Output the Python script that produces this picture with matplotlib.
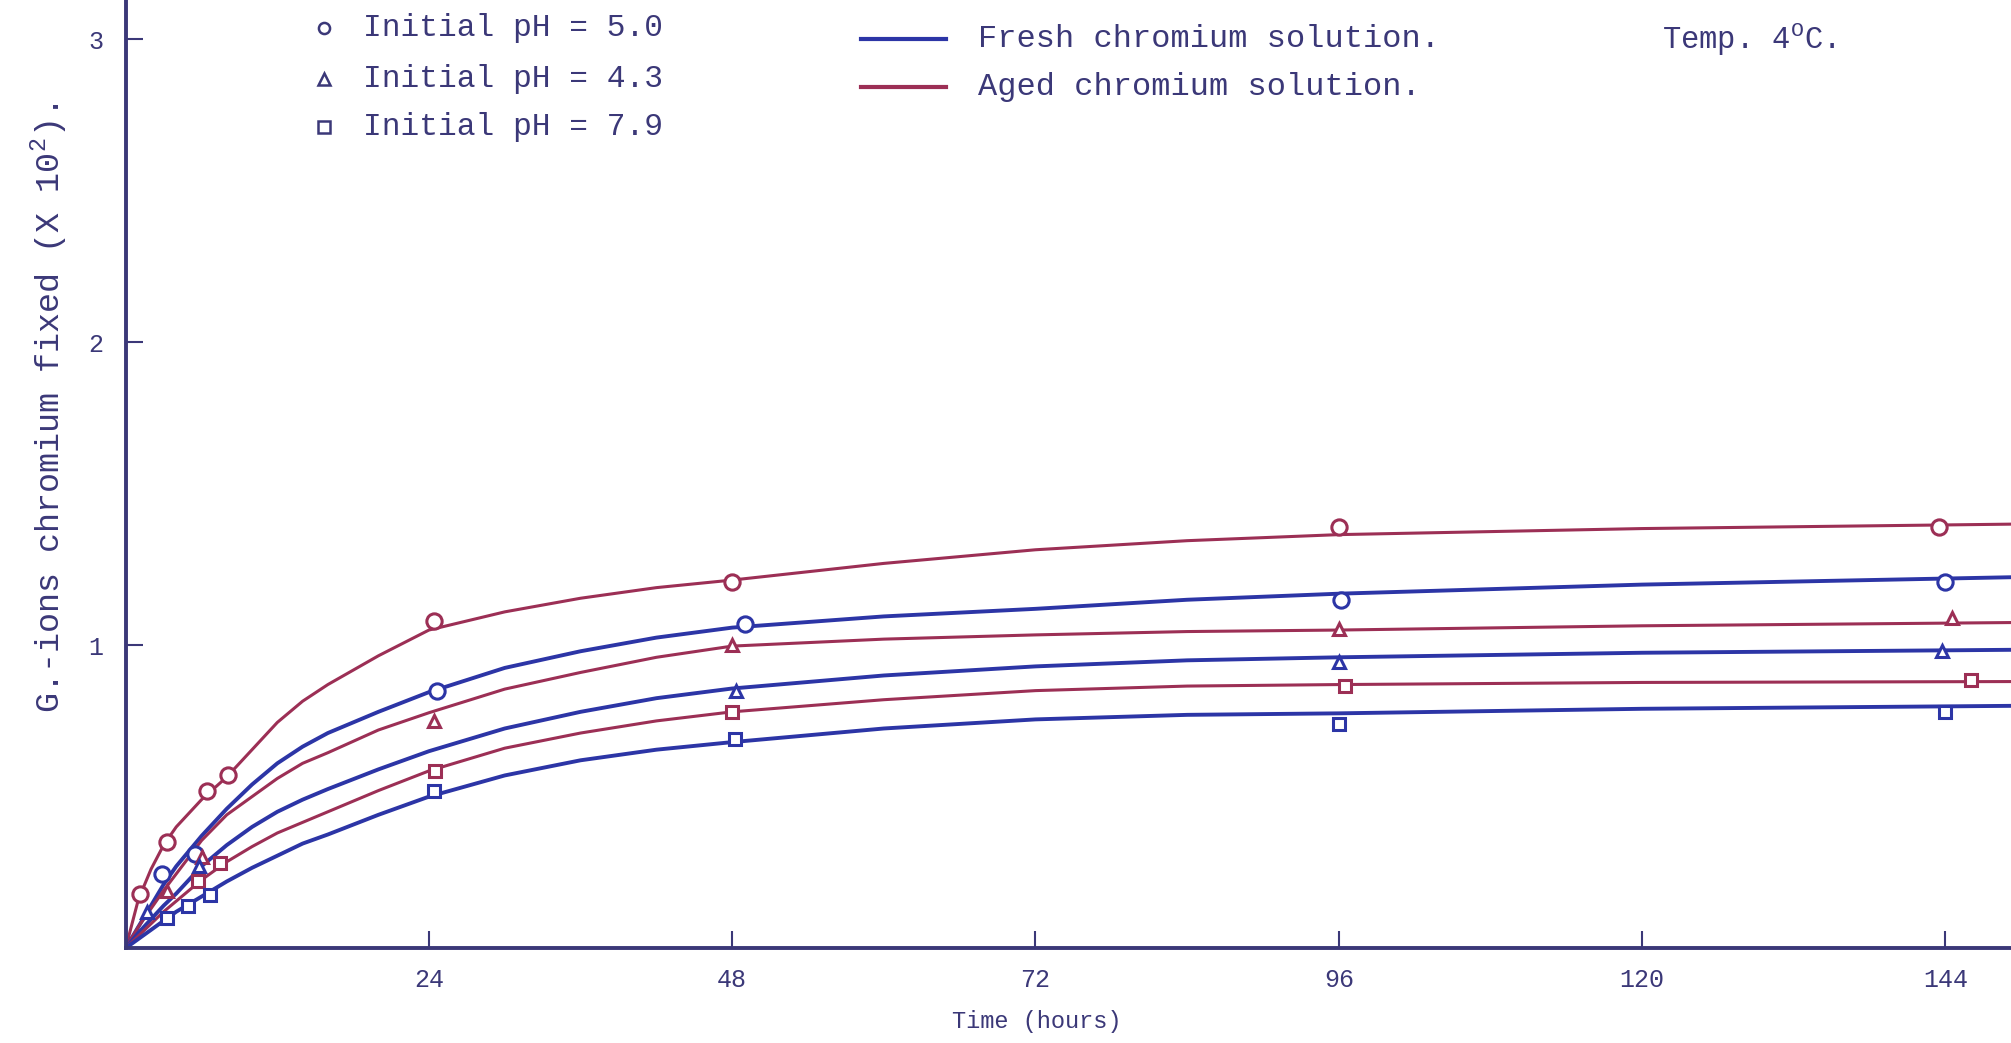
import numpy as np
import matplotlib
matplotlib.use("Agg")
import matplotlib.pyplot as plt

# typewriter-ish look
plt.rcParams['font.family'] = ['Liberation Mono', 'DejaVu Sans Mono']
plt.rcParams['mathtext.fontset'] = 'custom'
plt.rcParams['mathtext.rm'] = 'Liberation Mono'

BLUE = '#2c35a6'     # fresh solution
RED = '#9c2f55'      # aged solution
INK = '#3b3878'      # axes / typed text

# smooth curves (hours -> G.-ions x 10^2)
curve_hours = [0, 1, 2, 3, 4, 6, 8, 10, 12, 14, 16, 20, 24, 30, 36, 42, 48, 60, 72, 84, 96, 120, 150]
aged_50 = [0, 0.16, 0.26, 0.34, 0.40, 0.49, 0.565, 0.655, 0.745, 0.815, 0.87, 0.965, 1.05,
           1.11, 1.155, 1.19, 1.215, 1.27, 1.315, 1.345, 1.365, 1.385, 1.40]
fresh_50 = [0, 0.07, 0.14, 0.21, 0.27, 0.37, 0.46, 0.54, 0.61, 0.665, 0.71, 0.78, 0.845,
            0.925, 0.98, 1.025, 1.058, 1.095, 1.12, 1.15, 1.17, 1.20, 1.225]
aged_43 = [0, 0.07, 0.13, 0.19, 0.245, 0.355, 0.44, 0.50, 0.56, 0.61, 0.645, 0.72, 0.777,
           0.855, 0.91, 0.96, 0.997, 1.02, 1.034, 1.045, 1.05, 1.064, 1.075]
fresh_43 = [0, 0.05, 0.095, 0.14, 0.18, 0.27, 0.34, 0.40, 0.45, 0.49, 0.525, 0.59, 0.65,
            0.725, 0.78, 0.825, 0.857, 0.90, 0.93, 0.95, 0.96, 0.975, 0.985]
aged_79 = [0, 0.04, 0.08, 0.12, 0.155, 0.225, 0.285, 0.335, 0.38, 0.415, 0.45, 0.52, 0.585,
           0.66, 0.71, 0.75, 0.78, 0.82, 0.85, 0.865, 0.87, 0.877, 0.88]
fresh_79 = [0, 0.03, 0.06, 0.09, 0.12, 0.17, 0.22, 0.265, 0.305, 0.345, 0.375, 0.44, 0.50,
            0.57, 0.62, 0.655, 0.68, 0.725, 0.755, 0.77, 0.775, 0.79, 0.80]

# measured points
aged_50_t = [1.1, 3.3, 6.4, 8.1, 24.4, 48.0, 96.0, 143.5]
aged_50_y = [0.18, 0.35, 0.52, 0.57, 1.08, 1.21, 1.39, 1.39]
fresh_50_t = [2.9, 5.5, 24.6, 49.0, 96.2, 144.0]
fresh_50_y = [0.245, 0.31, 0.85, 1.07, 1.15, 1.21]
aged_43_t = [3.3, 6.0, 24.4, 48.0, 96.0, 144.5]
aged_43_y = [0.19, 0.30, 0.75, 1.00, 1.055, 1.09]
fresh_43_t = [1.7, 5.8, 48.3, 96.0, 143.7]
fresh_43_y = [0.12, 0.27, 0.85, 0.945, 0.98]
aged_79_t = [5.7, 7.5, 24.5, 48.0, 96.5, 146.0]
aged_79_y = [0.22, 0.28, 0.585, 0.78, 0.865, 0.885]
fresh_79_t = [3.25, 4.9, 6.7, 24.4, 48.2, 96.0, 144.0]
fresh_79_y = [0.10, 0.14, 0.175, 0.52, 0.69, 0.74, 0.78]

x_ticks = [24, 48, 72, 96, 120, 144]
y_ticks = [1, 2, 3]

fig = plt.figure(figsize=(20.11, 10.43), dpi=100)
ax = fig.add_axes([0.0625, 0.091, 0.9375, 0.909])

curves = [
    (aged_50, RED, 2.2), (fresh_50, BLUE, 2.8),
    (aged_43, RED, 2.2), (fresh_43, BLUE, 2.8),
    (aged_79, RED, 2.2), (fresh_79, BLUE, 2.8),
]
for vals, col, lw in curves:
    ax.plot(curve_hours, vals, color=col, lw=lw, solid_capstyle='round', solid_joinstyle='round')

points = [
    (aged_50_t, aged_50_y, 'o', RED, 11), (fresh_50_t, fresh_50_y, 'o', BLUE, 11),
    (aged_43_t, aged_43_y, '^', RED, 9), (fresh_43_t, fresh_43_y, '^', BLUE, 9),
    (aged_79_t, aged_79_y, 's', RED, 9), (fresh_79_t, fresh_79_y, 's', BLUE, 9),
]
for t, y, m, col, ms in points:
    ax.plot(t, y, ls='none', marker=m, ms=ms, mfc='white', mec=col, mew=2.2, zorder=3)

ax.set_xlim(0, 149.2)
ax.set_ylim(0, 3.13)
for side in ['top', 'right']:
    ax.spines[side].set_visible(False)
for side in ['left', 'bottom']:
    ax.spines[side].set_color(INK)
    ax.spines[side].set_linewidth(2.8)

ax.set_xticks(x_ticks)
ax.set_yticks(y_ticks)
ax.tick_params(direction='in', length=12, width=1.5, color=INK, labelcolor=INK, labelsize=18)
ax.tick_params(axis='x', pad=14)
ax.tick_params(axis='y', pad=16)
ax.set_xlabel("Time (hours)", color=INK, fontsize=17)
ax.xaxis.set_label_coords(0.483, -0.065)
ax.set_ylabel("G.-ions chromium fixed (X 10$^{2}$).", color=INK, fontsize=24)
ax.yaxis.set_label_coords(-0.03, 0.57)

# hand-made key, top left
key_markers = ['o', '^', 's']
key_labels = ["Initial pH = 5.0", "Initial pH = 4.3", "Initial pH = 7.9"]
key_y = [0.970, 0.917, 0.866]
for m, lab, ky in zip(key_markers, key_labels, key_y):
    ax.plot([0.1054], [ky], transform=ax.transAxes, marker=m, ms=8, mfc='white',
            mec=INK, mew=1.8, ls='none', clip_on=False)
    ax.text(0.1259, ky, lab, transform=ax.transAxes, color=INK, fontsize=22.5, va='center')

# line key, top middle
line_keys = [(BLUE, "Fresh chromium solution.", 0.959), (RED, "Aged chromium solution.", 0.908)]
for col, lab, ky in line_keys:
    ax.plot([0.390, 0.435], [ky, ky], transform=ax.transAxes, color=col, lw=3, clip_on=False)
    ax.text(0.452, ky, lab, transform=ax.transAxes, color=INK, fontsize=23, va='center')

ax.text(0.815, 0.959, r"Temp. 4$^{\mathrm{O}}$C.", transform=ax.transAxes, color=INK,
        fontsize=22, va='center')

fig.savefig("out.png", dpi=100, facecolor='white')
